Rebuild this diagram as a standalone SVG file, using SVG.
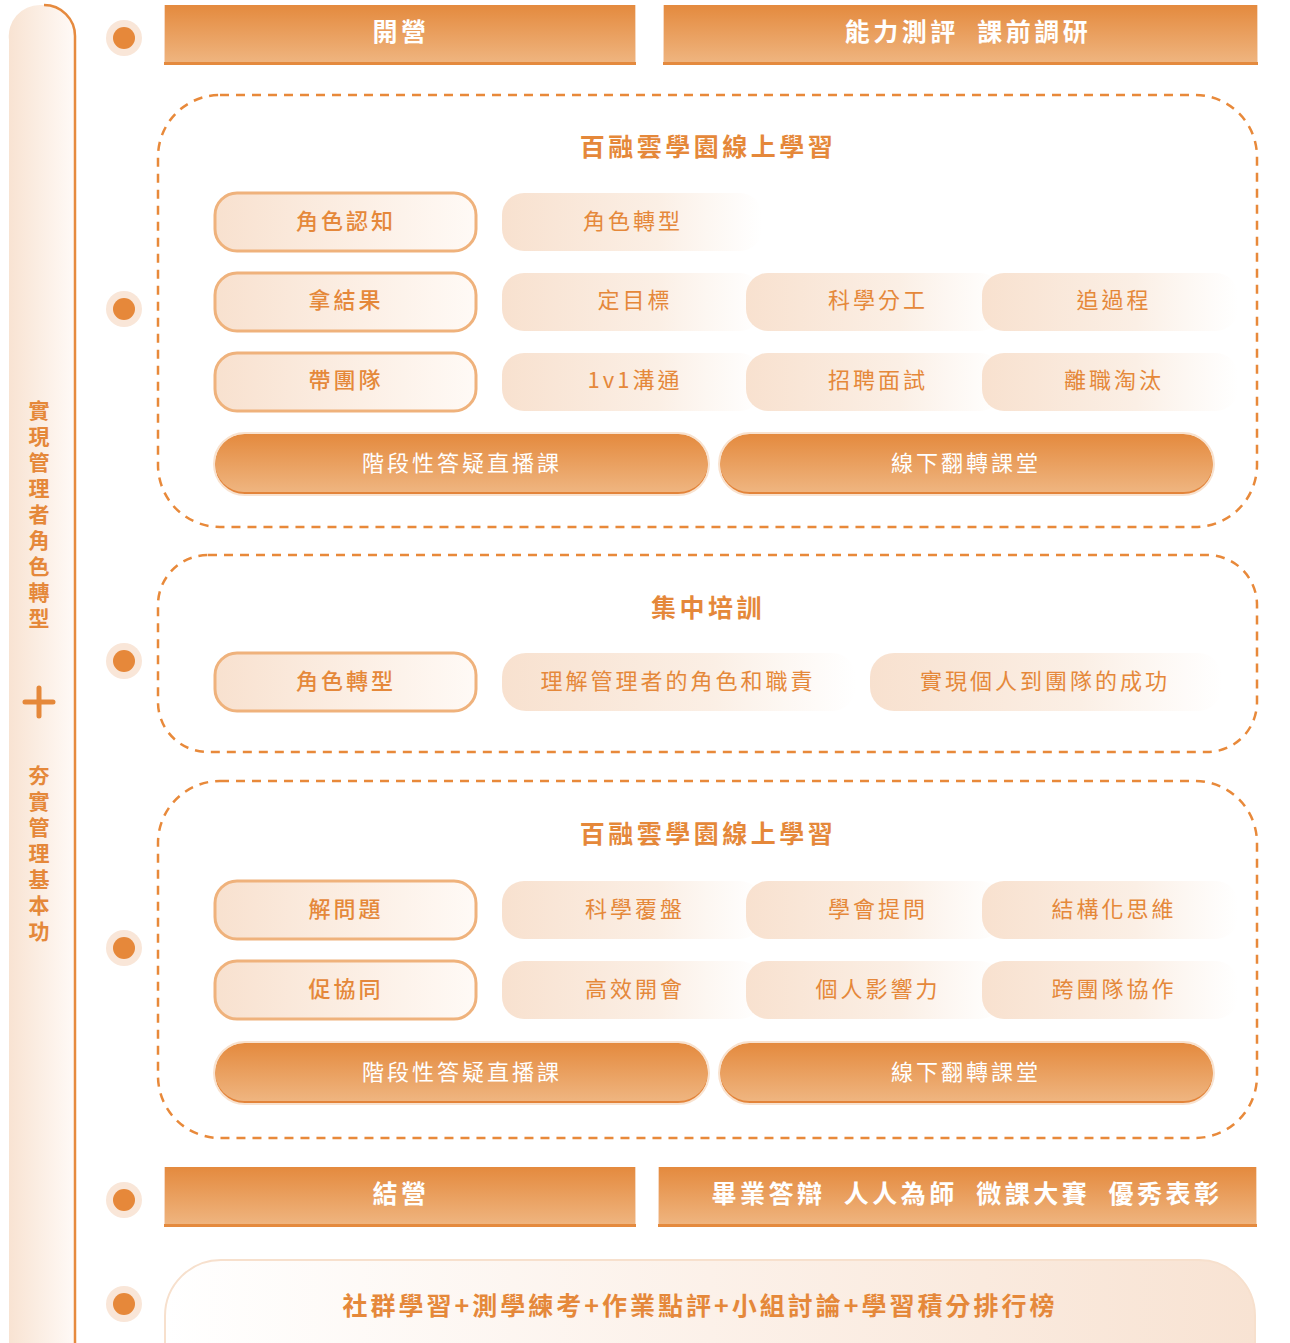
<svg xmlns="http://www.w3.org/2000/svg" width="1290" height="1343" viewBox="0 0 1290 1343">
<defs>
<linearGradient id="gBar" x1="0" y1="0" x2="0" y2="1"><stop offset="0" stop-color="#e48a3e"/><stop offset="1" stop-color="#efb580"/></linearGradient>
<linearGradient id="gSoft" x1="0" y1="0" x2="1" y2="0"><stop offset="0" stop-color="#f8e1cf"/><stop offset="0.6" stop-color="#fbefe5"/><stop offset="1" stop-color="#ffffff" stop-opacity="0.9"/></linearGradient>
<linearGradient id="gPill" x1="0" y1="0" x2="1" y2="0"><stop offset="0" stop-color="#f8e1cf"/><stop offset="1" stop-color="#fffaf6"/></linearGradient>
<linearGradient id="gSide" x1="0" y1="0" x2="1" y2="0"><stop offset="0" stop-color="#f8e3d2"/><stop offset="1" stop-color="#fffaf7"/></linearGradient>
<linearGradient id="gBottom" x1="0" y1="0" x2="1" y2="0"><stop offset="0" stop-color="#ffffff"/><stop offset="0.5" stop-color="#fcf1e9"/><stop offset="1" stop-color="#f8e3d3"/></linearGradient>
<style>
text{font-family:"Noto Sans CJK TC","Noto Sans CJK SC",sans-serif;text-anchor:middle;dominant-baseline:central}
.bar{fill:url(#gBar)}
.barEdge{fill:#e48a3e}
.barT{fill:#ffffff;font-size:25px;font-weight:700;letter-spacing:3.5px}
.dash{fill:none;stroke:#e8893a;stroke-width:2.5;stroke-dasharray:9 7}
.title{fill:#e5883a;font-size:25px;font-weight:700;letter-spacing:3.5px}
.pill{fill:url(#gPill);stroke:#efb27c;stroke-width:3}
.soft{fill:url(#gSoft)}
.t{fill:#e5883a;font-size:22px;letter-spacing:3px}
.tp{fill:#e5883a;font-size:22px;font-weight:500;letter-spacing:3px}
.op{fill:url(#gBar)}
.opShadow{fill:#e3843a}
.opHalo{fill:none;stroke:#f8e2cf;stroke-width:2}
.opT{fill:#ffffff;font-size:22px;letter-spacing:3px}
.dotO{fill:#f9e6d8}
.dotI{fill:#e6883a}
.side{fill:#e5883a;font-size:21px;font-weight:700;writing-mode:vertical-rl;letter-spacing:5px}
</style>
</defs>

<g id="sidebar">
<path d="M9,1343 V40 A31,31 0 0 1 40,5 H44 A31,31 0 0 1 75,36 V1343 Z" fill="url(#gSide)"/>
<path d="M44,5 A31,31 0 0 1 75,36 V1343" fill="none" stroke="#e68a3e" stroke-width="2.5"/>
<text class="side" x="39" y="517">實現管理者角色轉型</text>
<path d="M39,688 V716 M25,702 H53" stroke="#e5883a" stroke-width="5" stroke-linecap="round"/>
<text class="side" x="39" y="856">夯實管理基本功</text>
</g>

<g id="dots">
<circle class="dotO" cx="124" cy="38" r="18"/><circle class="dotI" cx="124" cy="38" r="11"/>
<circle class="dotO" cx="124" cy="309" r="18"/><circle class="dotI" cx="124" cy="309" r="11"/>
<circle class="dotO" cx="124" cy="661" r="18"/><circle class="dotI" cx="124" cy="661" r="11"/>
<circle class="dotO" cx="124" cy="948" r="18"/><circle class="dotI" cx="124" cy="948" r="11"/>
<circle class="dotO" cx="124" cy="1200" r="18"/><circle class="dotI" cx="124" cy="1200" r="11"/>
<circle class="dotO" cx="124" cy="1304" r="18"/><circle class="dotI" cx="124" cy="1304" r="11"/>
</g>

<g id="open">
<rect x="164" y="5" width="472" height="60" fill="#f6d9c2"/>
<rect class="bar" x="165" y="5" width="470" height="58"/>
<rect class="barEdge" x="164" y="62" width="472" height="3"/>
<text class="barT" x="401" y="30">開營</text>
</g>
<g id="assess">
<rect x="663" y="5" width="595" height="60" fill="#f6d9c2"/>
<rect class="bar" x="664" y="5" width="593" height="58"/>
<rect class="barEdge" x="663" y="62" width="595" height="3"/>
<text class="barT" x="968" y="30" xml:space="preserve">能力測評  課前調研</text>
</g>

<g id="section1">
<rect class="dash" x="158" y="95" width="1099" height="432" rx="62"/>
<text class="title" x="708" y="145">百融雲學園線上學習</text>
</g>
<g id="s1-row1">
<rect class="pill" x="215" y="193" width="261" height="58" rx="22"/><text class="tp" x="346" y="219">角色認知</text>
<rect class="soft" x="502" y="193" width="260" height="58" rx="22"/><text class="t" x="633" y="219">角色轉型</text>
</g>
<g id="s1-row2">
<rect class="pill" x="215" y="273" width="261" height="58" rx="22"/><text class="tp" x="346" y="298">拿結果</text>
<rect class="soft" x="502" y="273" width="260" height="58" rx="22"/><text class="t" x="635" y="298">定目標</text>
<rect class="soft" x="746" y="273" width="256" height="58" rx="22"/><text class="t" x="878" y="298">科學分工</text>
<rect class="soft" x="982" y="273" width="256" height="58" rx="22"/><text class="t" x="1114" y="298">追過程</text>
</g>
<g id="s1-row3">
<rect class="pill" x="215" y="353" width="261" height="58" rx="22"/><text class="tp" x="346" y="378">帶團隊</text>
<rect class="soft" x="502" y="353" width="260" height="58" rx="22"/><text class="t" x="635" y="378">1v1溝通</text>
<rect class="soft" x="746" y="353" width="256" height="58" rx="22"/><text class="t" x="878" y="378">招聘面試</text>
<rect class="soft" x="982" y="353" width="256" height="58" rx="22"/><text class="t" x="1114" y="378">離職淘汰</text>
</g>
<g id="s1-live">
<rect class="opShadow" x="215" y="436" width="493" height="59" rx="30"/>
<rect class="op" x="215" y="434" width="493" height="58" rx="29"/>
<rect class="opHalo" x="214" y="433" width="495" height="62" rx="31"/>
<text class="opT" x="462" y="461">階段性答疑直播課</text>
</g>
<g id="s1-offline">
<rect class="opShadow" x="720" y="436" width="493" height="59" rx="30"/>
<rect class="op" x="720" y="434" width="493" height="58" rx="29"/>
<rect class="opHalo" x="719" y="433" width="495" height="62" rx="31"/>
<text class="opT" x="966" y="461">線下翻轉課堂</text>
</g>

<g id="section2">
<rect class="dash" x="158" y="555" width="1099" height="197" rx="50"/>
<text class="title" x="708" y="606">集中培訓</text>
</g>
<g id="s2-row">
<rect class="pill" x="215" y="653" width="261" height="58" rx="22"/><text class="tp" x="346" y="679">角色轉型</text>
<rect class="soft" x="502" y="653" width="354" height="58" rx="24"/><text class="t" x="678" y="679">理解管理者的角色和職責</text>
<rect class="soft" x="870" y="653" width="352" height="58" rx="24"/><text class="t" x="1045" y="679">實現個人到團隊的成功</text>
</g>

<g id="section3">
<rect class="dash" x="158" y="781" width="1099" height="357" rx="62"/>
<text class="title" x="708" y="832">百融雲學園線上學習</text>
</g>
<g id="s3-row1">
<rect class="pill" x="215" y="881" width="261" height="58" rx="22"/><text class="tp" x="346" y="907">解問題</text>
<rect class="soft" x="502" y="881" width="260" height="58" rx="22"/><text class="t" x="635" y="907">科學覆盤</text>
<rect class="soft" x="746" y="881" width="256" height="58" rx="22"/><text class="t" x="878" y="907">學會提問</text>
<rect class="soft" x="982" y="881" width="256" height="58" rx="22"/><text class="t" x="1114" y="907">結構化思維</text>
</g>
<g id="s3-row2">
<rect class="pill" x="215" y="961" width="261" height="58" rx="22"/><text class="tp" x="346" y="987">促協同</text>
<rect class="soft" x="502" y="961" width="260" height="58" rx="22"/><text class="t" x="635" y="987">高效開會</text>
<rect class="soft" x="746" y="961" width="256" height="58" rx="22"/><text class="t" x="878" y="987">個人影響力</text>
<rect class="soft" x="982" y="961" width="256" height="58" rx="22"/><text class="t" x="1114" y="987">跨團隊協作</text>
</g>
<g id="s3-live">
<rect class="opShadow" x="215" y="1045" width="493" height="59" rx="30"/>
<rect class="op" x="215" y="1043" width="493" height="58" rx="29"/>
<rect class="opHalo" x="214" y="1042" width="495" height="62" rx="31"/>
<text class="opT" x="462" y="1070">階段性答疑直播課</text>
</g>
<g id="s3-offline">
<rect class="opShadow" x="720" y="1045" width="493" height="59" rx="30"/>
<rect class="op" x="720" y="1043" width="493" height="58" rx="29"/>
<rect class="opHalo" x="719" y="1042" width="495" height="62" rx="31"/>
<text class="opT" x="966" y="1070">線下翻轉課堂</text>
</g>

<g id="close">
<rect x="164" y="1167" width="472" height="60" fill="#f6d9c2"/>
<rect class="bar" x="165" y="1167" width="470" height="58"/>
<rect class="barEdge" x="164" y="1224" width="472" height="3"/>
<text class="barT" x="401" y="1192">結營</text>
</g>
<g id="graduation">
<rect x="658" y="1167" width="599" height="60" fill="#f6d9c2"/>
<rect class="bar" x="659" y="1167" width="597" height="58"/>
<rect class="barEdge" x="658" y="1224" width="599" height="3"/>
<text class="barT" x="967" y="1192" xml:space="preserve">畢業答辯  人人為師  微課大賽  優秀表彰</text>
</g>

<g id="community">
<rect x="165" y="1260" width="1090" height="140" rx="56" fill="url(#gBottom)" stroke="#f7e0cd" stroke-width="2"/>
<text class="title" x="700" y="1304" style="letter-spacing:3px">社群學習+測學練考+作業點評+小組討論+學習積分排行榜</text>
</g>
</svg>
